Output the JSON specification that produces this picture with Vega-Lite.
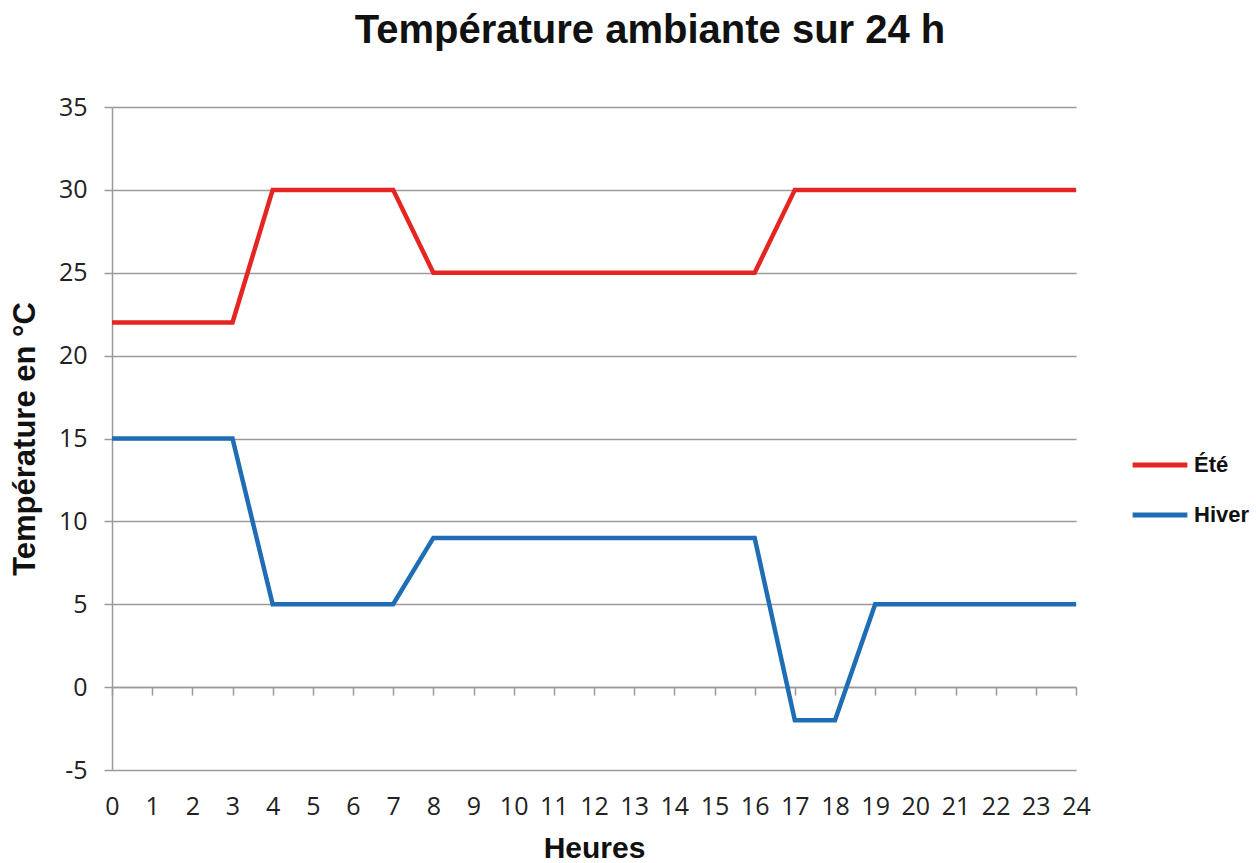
{
  "$schema": "https://vega.github.io/schema/vega-lite/v6.json",
  "autosize": "none",
  "width": 964,
  "height": 663,
  "padding": {"left": 112, "top": 107, "right": 180, "bottom": 93},
  "background": "white",
  "config": {"view": {"stroke": null}, "font": "Liberation Sans"},
  "title": {"text": "Température ambiante sur 24 h", "fontSize": 40, "fontWeight": "bold", "font": "Liberation Sans", "color": "#111", "dx": 56, "offset": 44},
  "data": {"values": [
    {"h":0,"s":"Été","t":22},{"h":1,"s":"Été","t":22},{"h":2,"s":"Été","t":22},{"h":3,"s":"Été","t":22},
    {"h":4,"s":"Été","t":30},{"h":5,"s":"Été","t":30},{"h":6,"s":"Été","t":30},{"h":7,"s":"Été","t":30},
    {"h":8,"s":"Été","t":25},{"h":9,"s":"Été","t":25},{"h":10,"s":"Été","t":25},{"h":11,"s":"Été","t":25},
    {"h":12,"s":"Été","t":25},{"h":13,"s":"Été","t":25},{"h":14,"s":"Été","t":25},{"h":15,"s":"Été","t":25},
    {"h":16,"s":"Été","t":25},{"h":17,"s":"Été","t":30},{"h":18,"s":"Été","t":30},{"h":19,"s":"Été","t":30},
    {"h":20,"s":"Été","t":30},{"h":21,"s":"Été","t":30},{"h":22,"s":"Été","t":30},{"h":23,"s":"Été","t":30},{"h":24,"s":"Été","t":30},
    {"h":0,"s":"Hiver","t":15},{"h":1,"s":"Hiver","t":15},{"h":2,"s":"Hiver","t":15},{"h":3,"s":"Hiver","t":15},
    {"h":4,"s":"Hiver","t":5},{"h":5,"s":"Hiver","t":5},{"h":6,"s":"Hiver","t":5},{"h":7,"s":"Hiver","t":5},
    {"h":8,"s":"Hiver","t":9},{"h":9,"s":"Hiver","t":9},{"h":10,"s":"Hiver","t":9},{"h":11,"s":"Hiver","t":9},
    {"h":12,"s":"Hiver","t":9},{"h":13,"s":"Hiver","t":9},{"h":14,"s":"Hiver","t":9},{"h":15,"s":"Hiver","t":9},
    {"h":16,"s":"Hiver","t":9},{"h":17,"s":"Hiver","t":-2},{"h":18,"s":"Hiver","t":-2},{"h":19,"s":"Hiver","t":5},
    {"h":20,"s":"Hiver","t":5},{"h":21,"s":"Hiver","t":5},{"h":22,"s":"Hiver","t":5},{"h":23,"s":"Hiver","t":5},{"h":24,"s":"Hiver","t":5}
  ]},
  "resolve": {"axis": {"x": "independent"}},
  "layer": [
    {
      "mark": {"type": "line", "strokeWidth": 4.5, "strokeJoin": "miter"},
      "encoding": {
        "x": {"field": "h", "type": "quantitative", "scale": {"domain": [0, 24], "nice": false, "zero": false},
          "axis": {"title": "Heures", "titleFontSize": 30, "titleFontWeight": "bold", "titleFont": "Liberation Sans", "titleColor": "#111", "titlePadding": 14,
            "values": [0,1,2,3,4,5,6,7,8,9,10,11,12,13,14,15,16,17,18,19,20,21,22,23,24],
            "domain": false, "ticks": false, "grid": false, "labelFont": "Open Sans", "labelFontSize": 25, "labelColor": "#222", "labelPadding": 24, "labelFlush": false}},
        "y": {"field": "t", "type": "quantitative", "scale": {"domain": [-5, 35], "nice": false, "zero": false},
          "axis": {"title": "Température en °C", "titleFontSize": 31, "titleFontWeight": "bold", "titleFont": "Liberation Sans", "titleColor": "#111", "titlePadding": 17,
            "values": [-5,0,5,10,15,20,25,30,35], "labelExpr": "'' + datum.value", "grid": true, "gridColor": "#9a9a9a", "gridWidth": 1.5,
            "domain": true, "domainColor": "#9a9a9a", "domainWidth": 1.5, "ticks": true, "tickSize": 8, "tickColor": "#9a9a9a", "tickWidth": 1.5,
            "labelFont": "Open Sans", "labelFontSize": 25, "labelColor": "#222", "labelPadding": 17}},
        "color": {"field": "s", "type": "nominal", "scale": {"domain": ["Été", "Hiver"], "range": ["#e52521", "#1f6db4"]},
          "legend": {"title": null, "orient": "none", "legendX": 1018, "legendY": 328, "symbolType": "stroke", "symbolSize": 3000, "symbolStrokeWidth": 5,
            "labelFontSize": 22, "labelFontWeight": "bold", "labelFont": "Liberation Sans", "labelColor": "#111", "rowPadding": 9, "labelOffset": 4}}
      }
    },
    {
      "mark": {"type": "rule", "opacity": 0},
      "encoding": {
        "x": {"field": "h", "type": "quantitative", "aggregate": "min",
          "axis": {"title": null, "orient": "bottom", "offset": -82.9, "labels": false, "grid": false,
            "values": [0,1,2,3,4,5,6,7,8,9,10,11,12,13,14,15,16,17,18,19,20,21,22,23,24],
            "domain": true, "domainColor": "#9a9a9a", "domainWidth": 1.5, "ticks": true, "tickSize": 8, "tickColor": "#9a9a9a", "tickWidth": 1.5}}
      }
    }
  ]
}
